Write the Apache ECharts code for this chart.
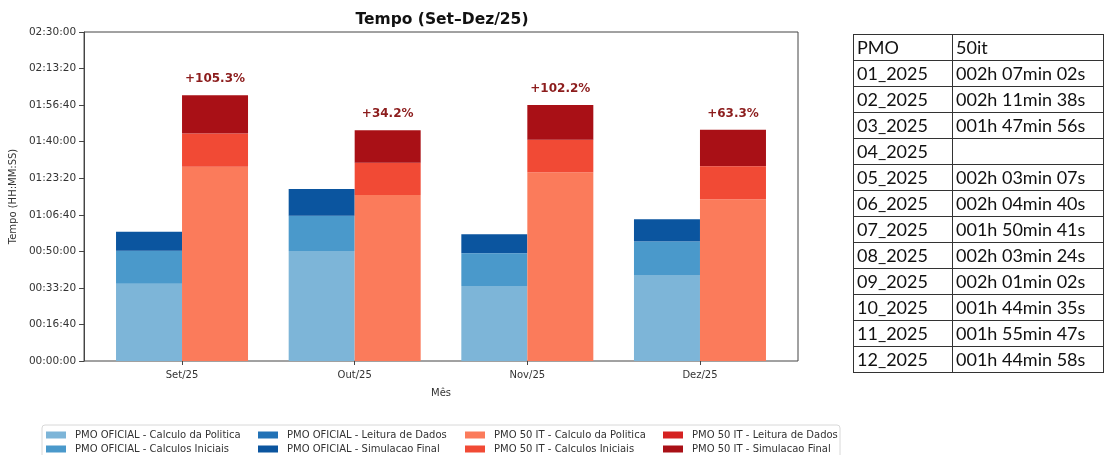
<!DOCTYPE html>
<html>
<head>
<meta charset="utf-8">
<script src="https://cdn.jsdelivr.net/npm/echarts@6/dist/echarts.min.js"></script>
<style>
  html, body { margin: 0; padding: 0; background: #fff; }
  #main { position: absolute; left: 0; top: 0; width: 1105px; height: 455px; }
  #tabela {
    position: absolute; left: 853px; top: 34px;
    border-collapse: collapse;
    font-family: Lato, "Open Sans", sans-serif; font-size: 18px; color: #111;
  }
  #tabela td {
    border: 1.5px solid #333; height: 25px; padding: 0 0 0 3px;
    line-height: 25px; white-space: nowrap;
  }
  #tabela td:first-child { width: 95px; }
  #tabela td:last-child { width: 147px; }
</style>
</head>
<body>
<div id="main"></div>
<table id="tabela"></table>
<script>
// meses do grafico
const meses = ['Set/25', 'Out/25', 'Nov/25', 'Dez/25']
const variacao = ['+105.3%', '+34.2%', '+102.2%', '+63.3%']

// tempos em segundos - PMO OFICIAL
const oficialCalculoPolitica = [2115, 3009, 2051, 2352]
const oficialCalculosIniciais = [894, 957, 894, 912]
const oficialLeituraDados = [10, 10, 10, 10]
const oficialSimulacaoFinal = [518, 729, 510, 601]

// tempos em segundos - PMO 50 IT
const itCalculoPolitica = [5315, 4540, 5160, 4422]
const itCalculosIniciais = [902, 876, 885, 903]
const itLeituraDados = [10, 10, 10, 10]
const itSimulacaoFinal = [1040, 884, 950, 992]

// tabela lateral
const tabelaPmo = ['01_2025', '02_2025', '03_2025', '04_2025', '05_2025', '06_2025',
  '07_2025', '08_2025', '09_2025', '10_2025', '11_2025', '12_2025']
const tabela50it = ['002h 07min 02s', '002h 11min 38s', '001h 47min 56s', '',
  '002h 03min 07s', '002h 04min 40s', '001h 50min 41s', '002h 03min 24s',
  '002h 01min 02s', '001h 44min 35s', '001h 55min 47s', '001h 44min 58s']

const tab = document.getElementById('tabela')
tab.innerHTML = '<tr><td>PMO</td><td>50it</td></tr>' +
  tabelaPmo.map((p, i) => '<tr><td>' + p + '</td><td>' + tabela50it[i] + '</td></tr>').join('')

const pad = n => String(n).padStart(2, '0')
const hms = v => pad(Math.floor(v / 3600)) + ':' + pad(Math.floor(v % 3600 / 60)) + ':' + pad(Math.round(v % 60))

const font = 'DejaVu Sans'
const series = [
  { name: 'PMO OFICIAL - Calculo da Politica', stack: 'oficial', data: oficialCalculoPolitica, color: '#7db5d8' },
  { name: 'PMO OFICIAL - Calculos Iniciais', stack: 'oficial', data: oficialCalculosIniciais, color: '#4a99cb' },
  { name: 'PMO OFICIAL - Leitura de Dados', stack: 'oficial', data: oficialLeituraDados, color: '#2272b6' },
  { name: 'PMO OFICIAL - Simulacao Final', stack: 'oficial', data: oficialSimulacaoFinal, color: '#0b559f' },
  { name: 'PMO 50 IT - Calculo da Politica', stack: 'it', data: itCalculoPolitica, color: '#fb7b5b' },
  { name: 'PMO 50 IT - Calculos Iniciais', stack: 'it', data: itCalculosIniciais, color: '#f14a35' },
  { name: 'PMO 50 IT - Leitura de Dados', stack: 'it', data: itLeituraDados, color: '#d52221' },
  { name: 'PMO 50 IT - Simulacao Final', stack: 'it', data: itSimulacaoFinal, color: '#a91016' }
].map((s, idx) => ({
  type: 'bar',
  name: s.name,
  stack: s.stack,
  xAxisIndex: 0,
  yAxisIndex: 0,
  barWidth: 66,
  barGap: '0%',
  itemStyle: { color: s.color },
  data: s.data,
  label: idx === 7 ? {
    show: true,
    position: 'top',
    distance: 10,
    formatter: p => variacao[p.dataIndex],
    color: '#8c1c1c',
    fontWeight: 'bold',
    fontSize: 12,
    fontFamily: font
  } : { show: false }
}))

const nomes = series.map(s => s.name)
const colLeft = [46, 258, 465, 663]
const legendas = colLeft.map((left, c) => ({
  orient: 'vertical',
  left: left,
  top: 430,
  itemWidth: 20,
  itemHeight: 7,
  itemGap: 4,
  icon: 'rect',
  padding: 0,
  textStyle: { fontSize: 10, fontFamily: font, color: '#333', padding: [0, 0, 0, 4] },
  data: [nomes[c * 2], nomes[c * 2 + 1]]
}))

const chart = echarts.init(document.getElementById('main'))
chart.setOption({
  animation: false,
  grid: [
    // barras: faixas das categorias centradas nos meses
    { left: 95.7, right: 318.7, top: 32, bottom: 94 },
    // moldura do grafico
    { left: 84, right: 307, top: 32, bottom: 94, show: true, borderColor: '#444', borderWidth: 1 }
  ],
  graphic: [
    {
      type: 'text', x: 442, y: 12,
      style: { text: 'Tempo (Set–Dez/25)', font: 'bold 15.5px ' + font, fill: '#111', align: 'center' }
    },
    {
      type: 'rect', shape: { x: 42, y: 425, width: 798, height: 40, r: 3 },
      style: { fill: 'none', stroke: '#d8d8d8', lineWidth: 1 }, z: -1
    }
  ],
  legend: legendas,
  xAxis: [
    {
      type: 'category',
      gridIndex: 0,
      data: meses,
      name: 'Mês',
      nameLocation: 'middle',
      nameGap: 27,
      nameTextStyle: { fontSize: 10, fontFamily: font, color: '#333' },
      axisLine: { show: false },
      axisTick: { show: true, length: 4, alignWithLabel: true, lineStyle: { color: '#444' } },
      axisLabel: { fontSize: 10, fontFamily: font, color: '#333', margin: 9 }
    },
    { type: 'value', gridIndex: 1, show: false }
  ],
  yAxis: [
    { type: 'value', gridIndex: 0, min: 0, max: 9000, show: false, splitLine: { show: false } },
    {
      type: 'value',
      gridIndex: 1,
      min: 0,
      max: 9000,
      interval: 1000,
      name: 'Tempo (HH:MM:SS)',
      nameLocation: 'middle',
      nameGap: 61,
      nameTextStyle: { fontSize: 10, fontFamily: font, color: '#333' },
      splitLine: { show: false },
      axisLine: { show: true, onZero: false, lineStyle: { color: '#444' } },
      axisTick: { show: true, length: 5, lineStyle: { color: '#444' } },
      axisLabel: { formatter: hms, fontSize: 10.5, fontFamily: font, color: '#333', margin: 8 }
    }
  ],
  series: series
})
</script>
</body>
</html>
